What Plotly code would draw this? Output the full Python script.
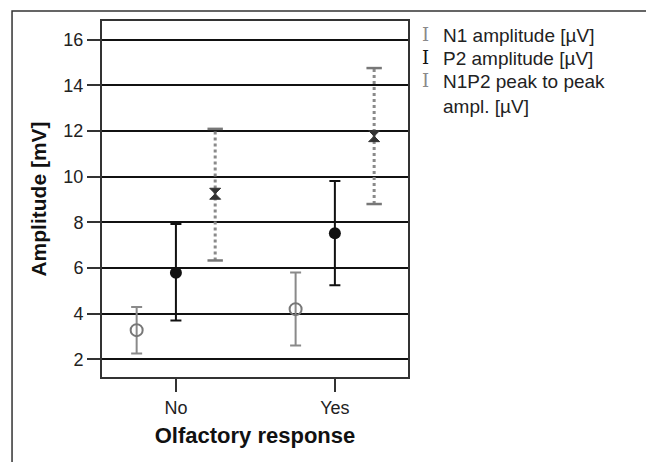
import plotly.graph_objects as go

categories = ["No", "Yes"]
cat_pos = [0, 1]

n1_mean = [3.28, 4.20]
n1_lo = [2.26, 2.61]
n1_hi = [4.29, 5.80]

p2_mean = [5.79, 7.52]
p2_lo = [3.70, 5.24]
p2_hi = [7.93, 9.81]

n1p2_mean = [9.25, 11.77]
n1p2_lo = [6.33, 8.80]
n1p2_hi = [12.09, 14.75]

y_ticks = [2, 4, 6, 8, 10, 12, 14, 16]
legend_labels = ["N1 amplitude [µV]", "P2 amplitude [µV]", "N1P2 peak to peak<br>ampl. [µV]"]

GRAY = "#8a8a8a"
DARK = "#111111"
OFF = 0.247

fig = go.Figure()

# N1
xs = [c - OFF for c in cat_pos]
fig.add_trace(go.Scatter(
    x=xs, y=n1_mean, mode="markers",
    marker=dict(symbol="circle-open", size=12, color="#777777", line=dict(width=2, color="#777777")),
    error_y=dict(type="data", symmetric=False,
                 array=[h - m for h, m in zip(n1_hi, n1_mean)],
                 arrayminus=[m - l for m, l in zip(n1_mean, n1_lo)],
                 color=GRAY, thickness=2, width=5.5),
    showlegend=False))

# P2
fig.add_trace(go.Scatter(
    x=cat_pos, y=p2_mean, mode="markers",
    marker=dict(symbol="circle", size=12, color=DARK),
    error_y=dict(type="data", symmetric=False,
                 array=[h - m for h, m in zip(p2_hi, p2_mean)],
                 arrayminus=[m - l for m, l in zip(p2_mean, p2_lo)],
                 color=DARK, thickness=2, width=5.5),
    showlegend=False))

# N1P2 dotted bars
for c, lo, hi in zip(cat_pos, n1p2_lo, n1p2_hi):
    fig.add_trace(go.Scatter(
        x=[c + OFF, c + OFF], y=[lo, hi], mode="lines",
        line=dict(color=GRAY, width=3, dash="dot"), showlegend=False))
    fig.add_trace(go.Scatter(
        x=[c + OFF, c + OFF], y=[lo, hi], mode="markers",
        marker=dict(symbol="line-ew-open", size=11, color="#777777",
                    line=dict(width=2.5, color="#777777")),
        showlegend=False))
fig.add_trace(go.Scatter(
    x=[c + OFF for c in cat_pos], y=n1p2_mean, mode="markers",
    marker=dict(symbol="hourglass", size=11, color="#333333", line=dict(width=1, color="#333333")),
    showlegend=False))

# outer frame
fig.add_shape(type="rect", xref="paper", yref="paper",
              x0=-0.294, x1=1.781, y0=-0.4, y1=1.028,
              line=dict(color="#333333", width=1.5), layer="below")

# legend as annotations
leg_colors = [GRAY, DARK, GRAY]
leg_y = [33, 56, 79]
for lab, col, ly in zip(legend_labels, leg_colors, leg_y):
    yp = (377 - ly) / 358
    fig.add_annotation(xref="paper", yref="paper", x=(425 - 102) / 306, y=yp,
                       text="I", showarrow=False, xanchor="center", yanchor="middle",
                       font=dict(family="DejaVu Serif", size=18, color=col))
    fig.add_annotation(xref="paper", yref="paper", x=(441 - 102) / 306, y=yp,
                       text=lab, showarrow=False, xanchor="left", yanchor="top",
                       yshift=12, align="left",
                       font=dict(family="Liberation Sans, Arial", size=19, color="#222222"))

fig.update_layout(
    width=646, height=454,
    margin=dict(l=94, r=246, t=11, b=85),
    paper_bgcolor="white", plot_bgcolor="white",
    font=dict(family="Liberation Sans, Arial", size=18, color="#222222"),
    xaxis=dict(range=[-0.465, 1.46], tickvals=cat_pos, ticktext=categories,
               ticks="outside", ticklen=13, tickwidth=1.5, tickcolor="#333333",
               showgrid=False, zeroline=False, showline=True, mirror=True,
               linecolor="#333333", linewidth=2,
               title=dict(text="<b>Olfactory response</b>", font=dict(size=22, color="#111111"), standoff=11)),
    yaxis=dict(range=[1.23, 16.81], tickvals=y_ticks,
               ticks="outside", ticklen=13, tickwidth=1.5, tickcolor="#333333",
               showgrid=True, gridcolor="#111111", gridwidth=1.5, zeroline=False,
               showline=True, mirror=True, linecolor="#333333", linewidth=2,
               title=dict(text="<b>Amplitude [mV]</b>", font=dict(size=21, color="#111111"), standoff=11)),
)

fig.write_html("out.html")
